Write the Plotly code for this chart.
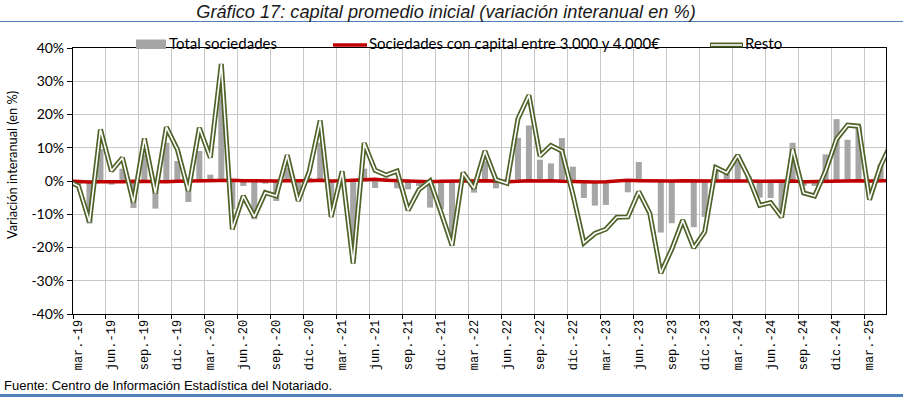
import plotly.graph_objects as go

# ---------------- data ----------------
month_names = ["ene.", "feb.", "mar.", "abr.", "may.", "jun.", "jul.", "ago.", "sep.", "oct.", "nov.", "dic."]
# months from feb.-19 to may.-25 (the first and last months are only partly visible at the plot edges)
categories = []
yy, mm = 2019, 1
for _ in range(76):
    categories.append(f"{month_names[mm]}-{str(yy)[2:]}")
    mm += 1
    if mm == 12:
        mm, yy = 0, yy + 1

# Total sociedades (bars) — feb.-19 ... may.-25
total = [None,
         -1.0, -12.8, 9.6, -1.1, 3.7, -8.1, 8.0, -8.3, 11.5, 6.0, -6.3, 9.0,
         1.9, 28.0, -8.5, -1.5, -11.5, -0.8, -6.0, 4.0, -3.0, 1.0, 11.5, -7.0,
         1.5, -23.5, 3.7, -2.1, 1.0, -2.2, -2.5, -1.5, -8.0, -8.5, -16.0, 1.5,
         -3.5, 6.0, -2.2, 0.5, 13.0, 16.7, 6.4, 5.3, 12.9, 4.3, -5.1, -7.4,
         -7.2, 0.0, -3.4, 5.7, 0.0, -15.5, -12.7, 0.0, -13.9, -10.8, 3.3, 2.2,
         5.9, 1.4, -5.0, -5.1, -9.5, 11.5, -1.5, -1.5, 8.0, 18.6, 12.4, 16.5,
         -0.5, 4.9,
         None]

# Sociedades con capital entre 3.000 y 4.000 €
sociedades = [0.0,
              -0.2, -0.3, -0.2, -0.3, -0.2, -0.1, -0.2, -0.1, -0.2, -0.1, 0.0, -0.1,
              0.0, 0.1, 0.2, 0.1, 0.0, 0.1, 0.0, 0.1, 0.0, 0.1, 0.2, 0.0,
              0.1, 0.2, 0.3, 0.5, 0.2, 0.1, -0.2, -0.3, -0.2, -0.1, 0.0, 0.1,
              0.0, 0.1, 0.0, -0.2, -0.1, 0.1, 0.0, 0.1, -0.1, -0.2, -0.3, -0.3,
              -0.2, 0.0, 0.2, 0.1, 0.0, -0.1, 0.0, 0.1, 0.0, 0.1, 0.0, 0.0,
              0.1, 0.0, -0.1, 0.0, 0.1, 0.0, -0.2, -0.1, 0.0, 0.1, 0.0, 0.1,
              0.0, 0.1,
              0.1]

# Resto
resto = [0.0,
         -1.5, -12.3, 15.5, 3.0, 7.0, -6.5, 12.8, -3.7, 16.2, 9.5, -3.0, 16.0,
         7.0, 35.2, -14.5, -4.5, -10.8, -3.5, -4.5, 7.8, -6.0, 2.8, 18.2, -10.8,
         2.9, -24.8, 11.4, 3.2, 1.8, 3.0, -8.8, -2.6, 0.0, -9.5, -19.4, 2.5,
         -2.2, 9.0, 0.4, -0.7, 18.7, 25.8, 7.5, 10.7, 9.0, -4.0, -18.6, -15.8,
         -14.5, -10.9, -10.8, -3.2, -9.7, -27.7, -20.5, -11.8, -20.1, -15.3, 4.1, 2.5,
         7.7, 1.1, -7.3, -6.5, -10.9, 9.6, -3.6, -4.5, 3.0, 12.6, 16.8, 16.5,
         -5.6, 4.5,
         11.5]

series_names = ["Total sociedades", "Sociedades con capital entre 3.000 y 4.000€", "Resto"]

y_ticks = [-40, -30, -20, -10, 0, 10, 20, 30, 40]
y_tick_labels = ["-40%", "-30%", "-20%", "-10%", "0%", "10%", "20%", "30%", "40%"]

# positions: index relative to mar.-19 (= 0)
xpos = list(range(-1, len(categories) - 1))
tick_pos = [p for p in xpos if 0 <= p <= 72 and p % 3 == 0]
tick_labels = [categories[p + 1] for p in tick_pos]

# ---------------- figure ----------------
W, H = 903, 397
L, R, T, B = 73, 17, 48, 83
pw, ph = W - L - R, H - T - B

def px_x(px):
    return (px - L) / pw

def px_y(py):
    return (H - B - py) / ph

OLIVE = "#4f6228"
RED = "#c00000"
GREY = "#a6a6a6"

fig = go.Figure()

fig.add_bar(x=xpos, y=total, name=series_names[0], marker=dict(color=GREY, line=dict(width=0)))
fig.add_scatter(x=xpos, y=sociedades, mode="lines", name=series_names[1],
                line=dict(color=RED, width=3.5))
fig.add_scatter(x=xpos, y=resto, mode="lines", name=series_names[2],
                line=dict(color=OLIVE, width=5))
fig.add_scatter(x=xpos, y=resto, mode="lines", name=series_names[2], hoverinfo="skip",
                line=dict(color="#ffffff", width=1.6))

fig.update_layout(
    width=W, height=H,
    margin=dict(l=L, r=R, t=T, b=B, pad=0),
    paper_bgcolor="white", plot_bgcolor="white",
    bargap=0.45,
    showlegend=False,
    title=dict(text="Gráfico 17: capital promedio inicial (variación interanual en %)",
               x=446 / W, xanchor="center", xref="container", y=1 - 12 / H, yanchor="middle",
               font=dict(family="Liberation Sans", size=18.2, color="#1a1a1a", style="italic")),
    xaxis=dict(range=[-0.5, 73.5], tickmode="array", tickvals=tick_pos, ticktext=tick_labels,
               tickangle=-90, showgrid=False, zeroline=False,
               tickfont=dict(family="Liberation Mono", size=12, color="#000000"),
               ticks="", showline=True, linecolor="#000000", linewidth=1.2, mirror=True,
               minor=dict(tick0=-0.5, dtick=3, showgrid=True, gridcolor="#c8c8c8", gridwidth=1,
                          ticks="outside", ticklen=4, tickcolor="#000000")),
    yaxis=dict(range=[-40, 40], tickmode="array", tickvals=y_ticks, ticktext=y_tick_labels,
               showgrid=True, gridcolor="#c8c8c8", gridwidth=1, zeroline=False,
               ticks="outside", ticklen=5, tickcolor="#000000",
               tickfont=dict(family="Lato", size=14, color="#000000"),
               showline=True, linecolor="#000000", linewidth=1.2, mirror=True),
)

# y-axis title (placed like the reference, slightly above the plot centre)
fig.add_annotation(text="Variación interanual (en %)", textangle=-90,
                   xref="paper", yref="paper", x=px_x(12), y=px_y(165), xanchor="center", yanchor="middle",
                   showarrow=False, font=dict(family="Lato", size=12.8, color="#000000"))

# legend (drawn by hand to match the reference symbols)
leg_font = dict(family="Lato", size=15, color="#000000")
leg_y = 43
fig.add_shape(type="rect", xref="paper", yref="paper", x0=px_x(136), x1=px_x(166), y0=px_y(49), y1=px_y(39.5),
              fillcolor=GREY, line=dict(width=0))
fig.add_annotation(text=series_names[0], xref="paper", yref="paper", x=px_x(167), y=px_y(leg_y),
                   xanchor="left", yanchor="middle", showarrow=False, font=leg_font)
fig.add_shape(type="line", xref="paper", yref="paper", x0=px_x(333), x1=px_x(367), y0=px_y(45), y1=px_y(45),
              line=dict(color=RED, width=3.5))
fig.add_annotation(text=series_names[1], xref="paper", yref="paper", x=px_x(367), y=px_y(leg_y),
                   xanchor="left", yanchor="middle", showarrow=False, font=leg_font)
fig.add_shape(type="line", xref="paper", yref="paper", x0=px_x(710), x1=px_x(743), y0=px_y(45), y1=px_y(45),
              line=dict(color=OLIVE, width=5))
fig.add_shape(type="line", xref="paper", yref="paper", x0=px_x(711), x1=px_x(742), y0=px_y(45), y1=px_y(45),
              line=dict(color="#ffffff", width=1.6))
fig.add_annotation(text=series_names[2], xref="paper", yref="paper", x=px_x(743), y=px_y(leg_y),
                   xanchor="left", yanchor="middle", showarrow=False, font=leg_font)

fig.add_annotation(text="Fuente: Centro de Información Estadística del Notariado.",
                   xref="paper", yref="paper", x=px_x(2), y=px_y(385), xanchor="left", yanchor="middle",
                   showarrow=False, font=dict(family="Liberation Sans", size=13, color="#000000"))

# decorative rules of the original page
fig.add_shape(type="line", xref="paper", yref="paper", x0=px_x(0), x1=px_x(W), y0=px_y(21.5), y1=px_y(21.5),
              line=dict(color="#4f81bd", width=1))
fig.add_shape(type="line", xref="paper", yref="paper", x0=px_x(0), x1=px_x(W), y0=px_y(395.5), y1=px_y(395.5),
              line=dict(color="#4f81bd", width=3))

fig.write_html("out.html", config={"displayModeBar": False},
               post_script="document.body.style.margin='0';document.body.style.padding='0';")
